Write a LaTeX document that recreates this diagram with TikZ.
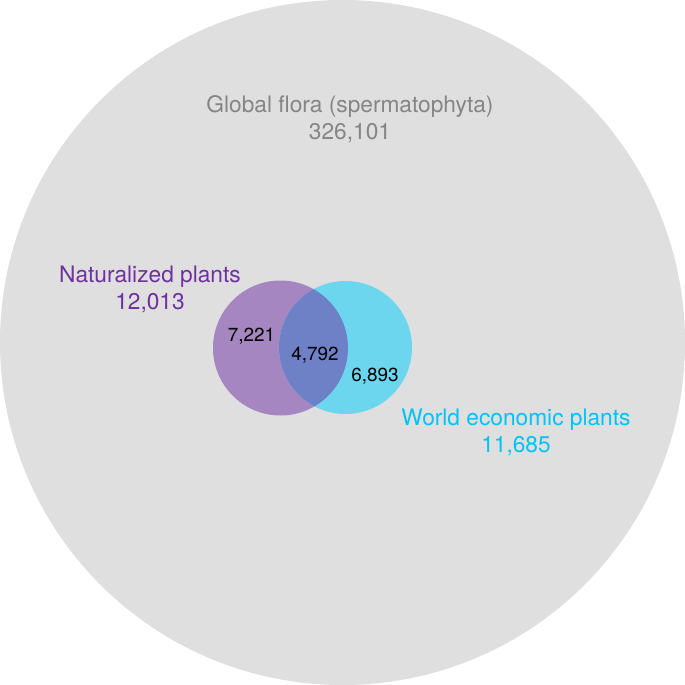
\documentclass[tikz,border=0pt]{standalone}
\usepackage{fontspec}
\setmainfont{TeX Gyre Heros}

\begin{document}
\begin{tikzpicture}[x=1bp, y=-1bp]
    % Define colours
    \definecolor{floraColour}{HTML}{DFDFDF}
    \definecolor{natColour}{HTML}{A686C0}
    \definecolor{econColour}{HTML}{6DD6EF}
    \definecolor{bothColour}{HTML}{6E80C6}
    \definecolor{floraText}{HTML}{858585}
    \definecolor{natText}{HTML}{7030A0}
    \definecolor{econText}{HTML}{00C3F5}

    \tikzset{
        bigLabel/.style={align=center, font=\fontsize{22.8}{27}\selectfont},
        countLabel/.style={font=\fontsize{19}{21}\selectfont, text=black}
    }

    \useasboundingbox (0,0) rectangle (685,685);

    % Define circle centres
    \coordinate (flora) at (342.5,342.5);
    \coordinate (nat) at (280.5,348);
    \coordinate (econ) at (345.5,347.5);

    % Draw the circles
    \fill[floraColour] (flora) circle (342.5);
    \fill[natColour] (nat) circle (67.5);
    \fill[econColour] (econ) circle (66.5);
    \begin{scope}
        \clip (nat) circle (67.5);
        \fill[bothColour] (econ) circle (66.5);
    \end{scope}

    % Set labels
    \node[bigLabel, text=floraText] (floraLabel) at (350,119) {Global flora (spermatophyta)\\326,101};
    \node[bigLabel, text=natText] (natLabel) at (150,289) {Naturalized plants\\12,013};
    \node[bigLabel, text=econText] (econLabel) at (516,432) {World economic plants\\11,685};

    % Set counts
    \node[countLabel] (natOnly) at (251.5,336) {7,221};
    \node[countLabel] (both) at (315,355) {4,792};
    \node[countLabel] (econOnly) at (375,376.5) {6,893};

\end{tikzpicture}
\end{document}
